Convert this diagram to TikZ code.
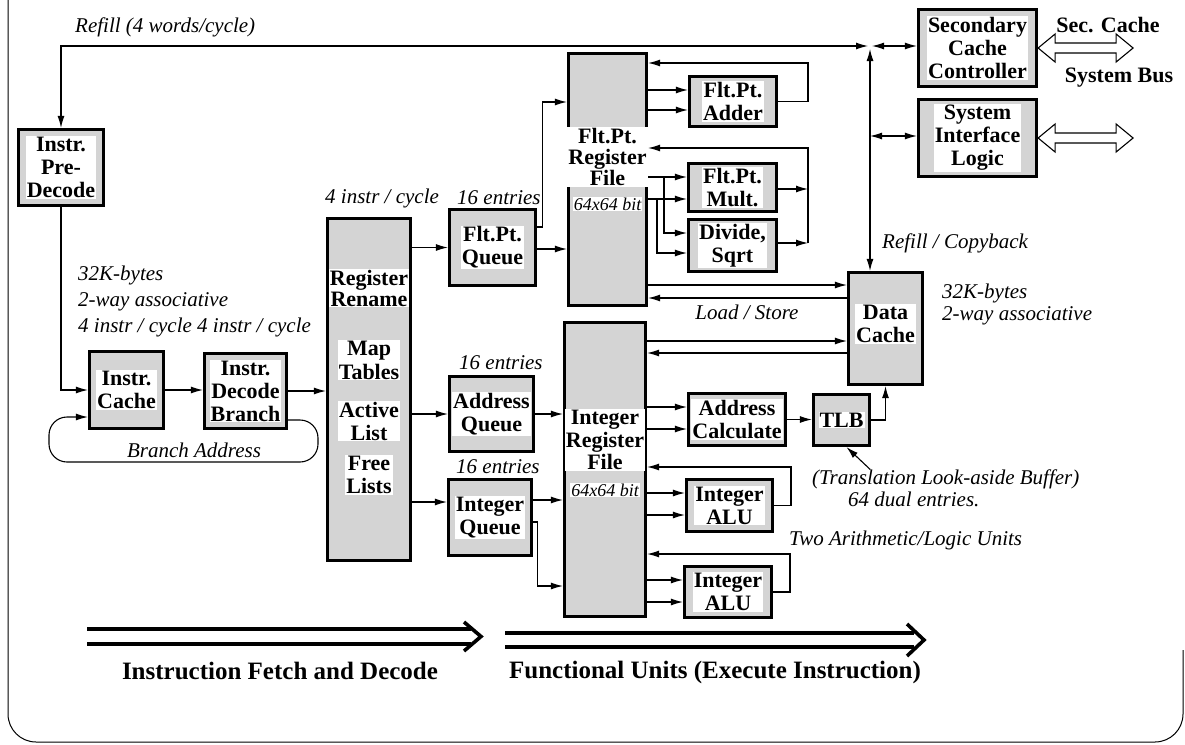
\documentclass[tikz,border=0pt]{standalone}
\usepackage{fontspec}
\setmainfont{Liberation Serif}
\usetikzlibrary{arrows.meta}
\definecolor{boxgray}{gray}{0.83}
\begin{document}
\begin{tikzpicture}[x=1pt,y=-1pt,
  unit/.style={draw, line width=3.2pt, fill=boxgray, inner sep=0pt},
  unitlabel/.style={font=\fontsize{22}{23}\selectfont\bfseries, align=center, fill=white, inner sep=1pt},
  remark/.style={font=\fontsize{21}{25}\selectfont\itshape, inner sep=0pt},
  bitlabel/.style={font=\fontsize{18}{20}\selectfont\itshape, fill=white, inner sep=1pt},
  banner/.style={font=\fontsize{25}{27}\selectfont\bfseries, inner sep=0pt},
  wire/.style={line width=1.1pt, -{Latex[length=12pt,width=7pt]}},
  wire2/.style={line width=1.1pt, {Latex[length=12pt,width=7pt]}-{Latex[length=12pt,width=7pt]}},
  hollow/.style={line width=1.1pt, fill=white, line join=miter},
  flow/.style={line width=3.6pt, line join=miter},
]
\useasboundingbox (0,0) rectangle (1185,744);

% outer frame
\draw[line width=1pt, rounded corners=28] (8,0) -- (8,742) -- (1183,742) -- (1183,650);

% y levels used by the connectors
\foreach \l in {90,102,110,136,148,177,189,199,227,233,243,249,253,285,298,341,353,407,417,420,429,493,500,502,515,522,580,586,602}
  \coordinate (y\l) at (0,\l);

% ---- units ----
\node[unit, minimum width=85, minimum height=76] (predec) at (61,167.5) {};
\node[unit, minimum width=74, minimum height=77] (icache) at (126.5,390) {};
\node[unit, minimum width=82, minimum height=75] (idec) at (245.5,391) {};
\node[unit, minimum width=83, minimum height=342] (rr) at (369,389.5) {};
\node[unit, minimum width=86, minimum height=76] (fpq) at (492.5,247.5) {};
\node[unit, minimum width=84, minimum height=75] (aq) at (491.5,414) {};
\node[unit, minimum width=83, minimum height=76] (iq) at (490,517.5) {};
\node[unit, minimum width=78, minimum height=252] (fprf) at (607.5,179.5) {};
\node[unit, minimum width=81, minimum height=294] (irf) at (605,469.5) {};
\node[unit, minimum width=87, minimum height=50] (fpadd) at (733,101.5) {};
\node[unit, minimum width=88, minimum height=48] (fpmul) at (732.5,187.5) {};
\node[unit, minimum width=88, minimum height=52] (fpdiv) at (732.5,245.5) {};
\node[unit, minimum width=118, minimum height=77] (scc) at (977.5,48) {};
\node[unit, minimum width=118, minimum height=77] (sil) at (977.5,138) {};
\node[unit, minimum width=74, minimum height=112] (dcache) at (885.5,328.5) {};
\node[unit, minimum width=56, minimum height=51] (tlb) at (841.5,420) {};
\node[unit, minimum width=97, minimum height=52] (acalc) at (737,419.5) {};
\node[unit, minimum width=86, minimum height=52] (alu1) at (729.5,505.5) {};
\node[unit, minimum width=87, minimum height=51] (alu2) at (728,592) {};

% ---- unit names ----
\node[unitlabel] (predec-t) at (predec) {Instr.\\Pre-\\Decode};
\node[unitlabel] (icache-t) at (icache) {Instr.\\Cache};
\node[unitlabel] (idec-t) at (idec) {Instr.\\Decode\\Branch};
\node[unitlabel, font=\fontsize{22}{21}\selectfont\bfseries] (rr-t1) at (369,288) {Register\\Rename};
\node[unitlabel, font=\fontsize{22}{24}\selectfont\bfseries] (rr-t2) at (369,360) {Map\\Tables};
\node[unitlabel] (rr-t3) at (369,421) {Active\\List};
\node[unitlabel] (rr-t4) at (369,475) {Free\\Lists};
\node[unitlabel] (fpq-t) at (fpq) {Flt.Pt.\\Queue};
\node[unitlabel] (aq-t) at (aq) {Address\\Queue};
\node[unitlabel] (iq-t) at (iq) {Integer\\Queue};
\node[unitlabel, font=\fontsize{22}{21}\selectfont\bfseries] (fprf-t) at (607.5,157) {Flt.Pt.\\Register\\File};
\node[bitlabel] (fprf-b) at (607.5,204) {64x64 bit};
\node[unitlabel, font=\fontsize{22}{22.5}\selectfont\bfseries] (irf-t) at (605,440) {Integer\\Register\\File};
\node[bitlabel] (irf-b) at (605,490) {64x64 bit};
\node[unitlabel] (fpadd-t) at (fpadd) {Flt.Pt.\\Adder};
\node[unitlabel] (fpmul-t) at (fpmul) {Flt.Pt.\\Mult.};
\node[unitlabel] (fpdiv-t) at (fpdiv) {Divide,\\Sqrt};
\node[unitlabel] (scc-t) at (scc) {Secondary\\Cache\\Controller};
\node[unitlabel] (sil-t) at (sil) {System\\Interface\\Logic};
\node[unitlabel] (dcache-t) at (885.5,324) {Data\\Cache};
\node[unitlabel] (tlb-t) at (tlb) {TLB};
\node[unitlabel] (acalc-t) at (acalc) {Address\\Calculate};
\node[unitlabel] (alu1-t) at (alu1) {Integer\\ALU};
\node[unitlabel] (alu2-t) at (alu2) {Integer\\ALU};

% ---- annotations ----
\node[remark, anchor=west] (refill-l) at (75,27) {Refill (4 words/cycle)};
\node[remark, anchor=west, align=left, font=\fontsize{21}{26}\selectfont\itshape] (icache-l) at (78,301)
  {32K-bytes\\2-way associative\\4 instr / cycle 4 instr / cycle};
\node[remark, anchor=west] (rr-l) at (325,198) {4 instr / cycle};
\node[remark, anchor=west] (fpq-l) at (457,198) {16 entries};
\node[remark, anchor=west] (aq-l) at (459,363) {16 entries};
\node[remark, anchor=west] (iq-l) at (456,467) {16 entries};
\node[remark, anchor=west] (copy-l) at (882,243) {Refill / Copyback};
\node[remark, anchor=west, align=left, font=\fontsize{21}{22}\selectfont\itshape] (dcache-l) at (942,304)
  {32K-bytes\\2-way associative};
\node[remark] (ls-l) at (747,312) {Load / Store};
\node[remark, anchor=west, align=left, font=\fontsize{21}{22}\selectfont\itshape] (tlbnote) at (812,488)
  {(Translation Look-aside Buffer)\\\hspace*{36pt}64 dual entries.};
\node[remark, anchor=west] (alu-l) at (789,540) {Two Arithmetic/Logic Units};
\node[remark] (br-l) at (194,450) {Branch Address};
\node[unitlabel, fill=none] (sec-l) at (1108,25) {Sec. Cache};
\node[unitlabel, fill=none] (bus-l) at (1119,78) {System Bus};

% ---- instruction fetch and decode ----
\coordinate (brR) at (318,462);
\coordinate (brL) at (49,462);
\draw[wire] (predec.south) |- (icache.west);
\draw[wire] (icache.east) -- (icache.east -| idec.west);
\draw[wire] (idec.east) -- (idec.east -| rr.west);
\draw[wire, rounded corners=18] (idec.east |- y420) -| (brR) -- (brL) |- (icache.west |- y417);

% ---- refill paths from the secondary cache ----
\coordinate (jn) at (870,46);
\draw[wire2] (predec.north) |- ([xshift=-2]jn);
\draw[wire2] ([xshift=2]jn) -- (scc.west |- jn);
\draw[wire2] ([yshift=-3]jn) -- (jn |- dcache.north);
\draw[wire2] (jn |- y136) -- (sil.west |- y136);

% external buses
\draw[hollow] (scc.east) -- ++(17,-14) -- ++(0,9) -- ++(61,0) -- ++(0,-9) -- ++(17,14)
  -- ++(-17,14) -- ++(0,-9) -- ++(-61,0) -- ++(0,9) -- cycle;
\draw[hollow] (sil.east) -- ++(17,-14) -- ++(0,9) -- ++(61,0) -- ++(0,-9) -- ++(17,14)
  -- ++(-17,14) -- ++(0,-9) -- ++(-61,0) -- ++(0,9) -- cycle;

% ---- dispatch to the queues and register files ----
\draw[wire] (rr.east |- fpq.west) -- (fpq.west);
\draw[wire] (rr.east |- aq.west) -- (aq.west);
\draw[wire] (rr.east |- y502) -- (iq.west |- y502);
\draw[wire] (fpq.east |- y249) -- (fprf.west |- y249);
\draw[wire] (fpq.east |- y227) -- ++(5,0) |- (fprf.west |- y102);
\draw[wire] (aq.east) -- (aq.east -| irf.west);
\draw[wire] (iq.east |- y500) -- (irf.west |- y500);
\draw[wire] (iq.east |- y522) -- ++(4,0) |- (irf.west |- y586);

% ---- floating-point units ----
\coordinate (fpr1) at (808,63);
\coordinate (fpr2) at (808,148);
\coordinate (fpb1) at (664,177);
\coordinate (fpb2) at (657,199);
\draw[wire] (fprf.east |- y90) -- (fpadd.west |- y90);
\draw[wire] (fprf.east |- y110) -- (fpadd.west |- y110);
\draw[wire] (fpadd.east) -| (fpr1) -- (fprf.east |- fpr1);
\draw[wire] (fprf.east |- y177) -- (fpmul.west |- y177);
\draw[wire] (fprf.east |- y199) -- (fpmul.west |- y199);
\draw[wire] (fpb1) |- (fpdiv.west |- y233);
\draw[wire] (fpb2) |- (fpdiv.west |- y253);
\draw[wire] (fpmul.east |- y189) -- (fpr2 |- y189);
\draw[wire] (fpdiv.east |- y243) -- (fpr2 |- y243);
\draw[wire] (fpr2 |- y243) -- (fpr2) -- (fprf.east |- fpr2);

% ---- load / store ----
\draw[wire] (fprf.east |- y285) -- (dcache.west |- y285);
\draw[wire] (dcache.west |- y298) -- (fprf.east |- y298);
\draw[wire] (irf.east |- y341) -- (dcache.west |- y341);
\draw[wire] (dcache.west |- y353) -- (irf.east |- y353);

% ---- integer units ----
\coordinate (al1) at (791,467);
\coordinate (al2) at (790,554);
\coordinate (tlbtail) at (870,0);
\draw[wire] (irf.east |- y407) -- (acalc.west |- y407);
\draw[wire] (irf.east |- y429) -- (acalc.west |- y429);
\draw[wire] (acalc.east) -- (acalc.east -| tlb.west);
\draw[wire] (tlb.east) -| (dcache.south);
\draw[wire] (tlbnote.north -| tlbtail) -- ([xshift=5]tlb.south);
\draw[wire] (irf.east |- y493) -- (alu1.west |- y493);
\draw[wire] (irf.east |- y515) -- (alu1.west |- y515);
\draw[wire] (alu1.east) -| (al1) -- (irf.east |- al1);
\draw[wire] (irf.east |- y580) -- (alu2.west |- y580);
\draw[wire] (irf.east |- y602) -- (alu2.west |- y602);
\draw[wire] (alu2.east) -| (al2) -- (irf.east |- al2);

% ---- pipeline stage banners ----
\draw[flow] (87,629) -- (471,629) (87,644) -- (471,644);
\draw[flow] (464,622) -- (481,636.5) -- (464,651);
\draw[flow] (505,633) -- (914,633) (505,647) -- (914,647);
\draw[flow] (907,624) -- (924,640) -- (907,656);
\node[banner] (stage1) at (280,671) {Instruction Fetch and Decode};
\node[banner] (stage2) at (715,672) {Functional Units (Execute Instruction)};
\end{tikzpicture}
\end{document}
